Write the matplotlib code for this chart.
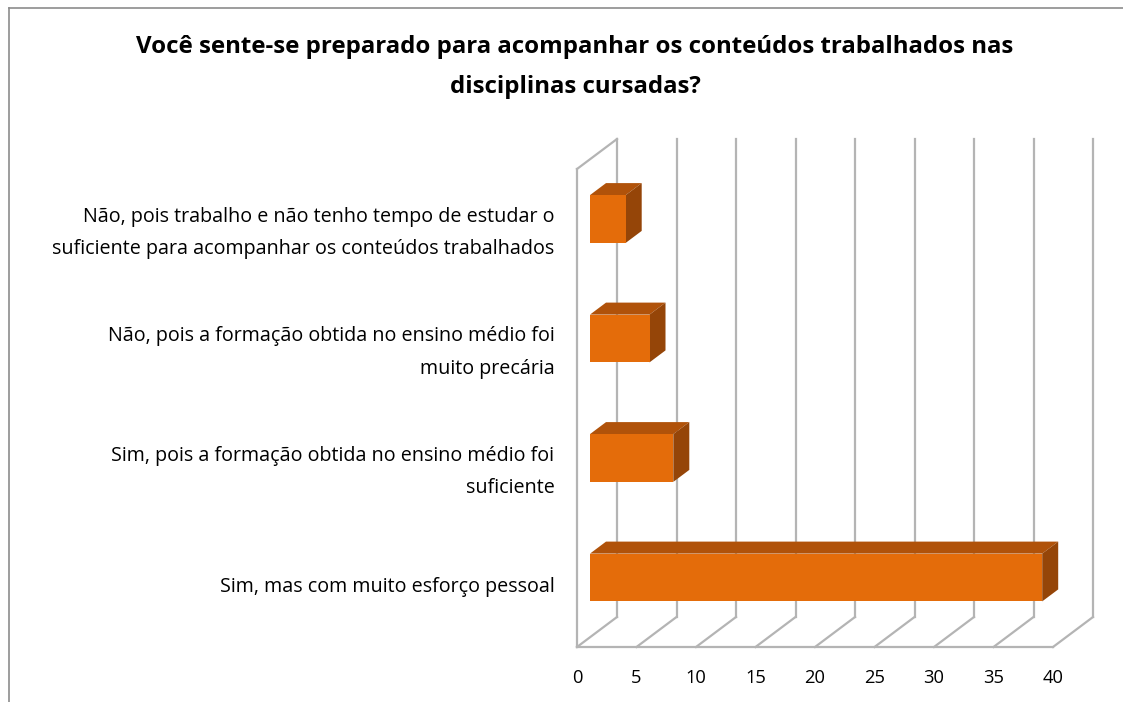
import matplotlib
matplotlib.use("Agg")
import matplotlib.pyplot as plt
from matplotlib.patches import Polygon
from matplotlib.lines import Line2D

# dados do grafico
categorias = [
    "Sim, mas com muito esforço pessoal",
    "Sim, pois a formação obtida no ensino médio foi\nsuficiente",
    "Não, pois a formação obtida no ensino médio foi\nmuito precária",
    "Não, pois trabalho e não tenho tempo de estudar o\nsuficiente para acompanhar os conteúdos trabalhados",
]
valores = [38, 7, 5, 3]
ticks_x = [0, 5, 10, 15, 20, 25, 30, 35, 40]
titulo = "Você sente-se preparado para acompanhar os conteúdos trabalhados nas\ndisciplinas cursadas?"

plt.rcParams['font.family'] = ['Open Sans', 'DejaVu Sans']

fig = plt.figure(figsize=(11.23, 7.02), dpi=100)
W, H = 1123, 702
# plano frontal do grafico em pixels: x 577..1053, y 169..647
ax = fig.add_axes([577 / W, (H - 647) / H, 476 / W, 478 / H])
ax.set_xlim(0, 40)
ax.set_ylim(0, 4)
ax.axis("off")

# profundidade do efeito 3D (em unidades de dados)
px_x = 476 / 40.0
px_y = 478 / 4.0
dx = 40 / px_x
dy = 30 / px_y

cinza = "#b4b4b4"
lw = 1.6

# linhas de grade na parede do fundo
for t in ticks_x:
    ax.plot([t + dx, t + dx], [dy, 4 + dy], color=cinza, lw=lw, clip_on=False, zorder=1)
    ax.plot([t, t + dx], [0, dy], color=cinza, lw=lw, clip_on=False, zorder=1)
# piso e parede lateral
ax.plot([0, 40], [0, 0], color=cinza, lw=lw, clip_on=False, zorder=1)
ax.plot([0, 0], [0, 4], color=cinza, lw=lw, clip_on=False, zorder=1)
ax.plot([0, dx], [4, 4 + dy], color=cinza, lw=lw, clip_on=False, zorder=1)

# barras 3D
f0, f1 = 0.325, 0.725
altura = 0.4
cor_frente = "#e46c0a"
cor_topo = "#b0520a"
cor_lado = "#954508"
for i, v in enumerate(valores):
    yc = i + 0.5
    ox0, oy0 = f0 * dx, f0 * dy
    ox1, oy1 = f1 * dx, f1 * dy
    y0 = yc - altura / 2 + oy0
    y1 = yc + altura / 2 + oy0
    x0 = ox0
    x1 = v + ox0
    ddx, ddy = ox1 - ox0, oy1 - oy0
    topo = Polygon([(x0, y1), (x1, y1), (x1 + ddx, y1 + ddy), (x0 + ddx, y1 + ddy)],
                   closed=True, facecolor=cor_topo, edgecolor="none", zorder=3, clip_on=False)
    lado = Polygon([(x1, y0), (x1 + ddx, y0 + ddy), (x1 + ddx, y1 + ddy), (x1, y1)],
                   closed=True, facecolor=cor_lado, edgecolor="none", zorder=3, clip_on=False)
    frente = Polygon([(x0, y0), (x1, y0), (x1, y1), (x0, y1)],
                     closed=True, facecolor=cor_frente, edgecolor="none", zorder=4, clip_on=False)
    ax.add_patch(topo)
    ax.add_patch(lado)
    ax.add_patch(frente)
    # rotulo da categoria (duas linhas ficam um pouco mais abaixo)
    desloc = -0.035 if "\n" in categorias[i] else 0
    ax.text(-1.9, yc + desloc, categorias[i], ha="right", va="center", fontsize=14.2,
            linespacing=1.85, color="#000000", clip_on=False)

# rotulos do eixo x
for t in ticks_x:
    ax.text(t, -0.26, str(t), ha="center", va="center", fontsize=13.2, clip_on=False)

# titulo
fig.text(575 / W, 1 - 67 / H, titulo, ha="center", va="center", fontsize=17.3,
         fontweight="bold", linespacing=1.85)

# moldura do grafico
fig.add_artist(Line2D([9 / W, 1], [1 - 8 / H, 1 - 8 / H], color="#8c8c8c", lw=1.2))
fig.add_artist(Line2D([9 / W, 9 / W], [0, 1 - 8 / H], color="#8c8c8c", lw=1.2))

fig.savefig("out.png", dpi=100, facecolor="white")
